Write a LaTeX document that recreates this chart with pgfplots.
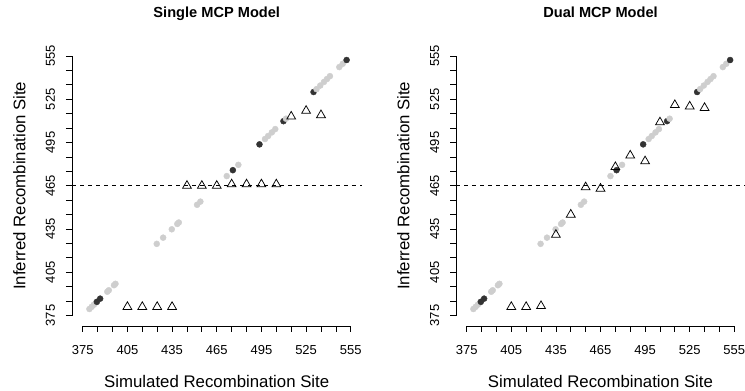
\documentclass[border=0pt]{standalone}
\usepackage{fontspec}
\setmainfont{Liberation Sans}
\usepackage{pgfplots}
\pgfplotsset{compat=1.18}
\definecolor{ptgrey}{RGB}{206,206,206}
\definecolor{ptdark}{RGB}{51,51,51}
\pgfplotsset{rstyle/.style={
  scale only axis, width=289.5pt, height=280.3pt,
  xmin=367.8, xmax=562.2, ymin=367.8, ymax=562.2,
  axis x line*=bottom, axis y line*=left,
  axis line style={draw=none,-},
  xtick={375,385,...,555}, ytick={375,385,...,555},
  xticklabels={375,,,405,,,435,,,465,,,495,,,525,,,555},
  yticklabels={375,,,405,,,435,,,465,,,495,,,525,,,555},
  tick align=outside, major tick length=6pt,
  tick style={black, line width=0.75pt},
  xticklabel style={font=\fontsize{13}{15}\selectfont, anchor=base},
  yticklabel style={font=\fontsize{13}{15}\selectfont, rotate=90, anchor=base},
  xticklabel shift=23pt, yticklabel shift=11pt,
  title style={at={(axis description cs:0.5,1.0788)}, anchor=base, font=\bfseries\fontsize{14.6}{17}\selectfont},
  xlabel style={at={(axis description cs:0.5,-0.2198)}, anchor=base, font=\fontsize{16.8}{20}\selectfont},
  ylabel style={at={(axis description cs:-0.1613,0.5)}, anchor=base, font=\fontsize{16.8}{20}\selectfont},
  xlabel={Simulated Recombination Site},
  ylabel={Inferred Recombination Site},
  clip=false,
}}
\begin{document}
\begin{tikzpicture}
\path[use as bounding box] (0pt,0pt) rectangle (745pt,391pt);
\begin{axis}[rstyle, at={(72pt,65.1pt)}, anchor=south west, title={Single MCP Model}]
\draw[line width=0.75pt] (axis cs:375,367.8) -- (axis cs:555,367.8);
\draw[line width=0.75pt] (axis cs:367.8,375) -- (axis cs:367.8,555);
\addplot[black, line width=0.75pt, dash pattern=on 4pt off 4pt] coordinates {(367.8,465) (562.2,465)};
\addplot[only marks, mark=*, mark size=3pt, color=ptgrey] coordinates {(379.5,379.5) (381,381) (382.5,382.5) (384,384) (391.5,391.5) (392.5,392.5) (396,396) (397,397) (424.7,424.7) (429,429) (434.8,434.8) (438.5,438.5) (439.5,439.5) (451.8,451.8) (454,454) (471.7,471.7) (479.5,479.5) (497.4,497.4) (499.5,499.5) (502,502) (504.3,504.3) (534.5,534.5) (537,537) (539,539) (541,541) (547.3,547.3) (549.6,549.6)};
\addplot[only marks, mark=*, mark size=3pt, color=ptdark] coordinates {(384.5,384.5) (386.7,386.7) (475.8,475.8) (493.7,493.7) (509.8,509.8) (530,530) (552.2,552.2)};
\addplot[only marks, mark=*, mark size=3pt, color=ptgrey] coordinates {(511.5,511.5) (532,532)};
\addplot[only marks, mark=triangle, mark size=5.1pt, black, mark options={line width=0.75pt}] coordinates {(405,381) (415,381) (425,381) (435,381) (445,465) (455,465) (465,465) (475,466) (485,466) (495,466) (505,466) (515,513) (525,517) (535,514)};
\end{axis}
\begin{axis}[rstyle, at={(456pt,65.1pt)}, anchor=south west, width=289pt, title={Dual MCP Model}]
\draw[line width=0.75pt] (axis cs:375,367.8) -- (axis cs:555,367.8);
\draw[line width=0.75pt] (axis cs:367.8,375) -- (axis cs:367.8,555);
\addplot[black, line width=0.75pt, dash pattern=on 4pt off 4pt] coordinates {(367.8,465) (562.2,465)};
\addplot[only marks, mark=*, mark size=3pt, color=ptgrey] coordinates {(379.5,379.5) (381,381) (382.5,382.5) (384,384) (391.5,391.5) (392.5,392.5) (396,396) (397,397) (424.7,424.7) (429,429) (434.8,434.8) (438.5,438.5) (439.5,439.5) (451.8,451.8) (454,454) (471.7,471.7) (479.5,479.5) (497.4,497.4) (499.5,499.5) (502,502) (504.3,504.3) (534.5,534.5) (537,537) (539,539) (541,541) (547.3,547.3) (549.6,549.6)};
\addplot[only marks, mark=*, mark size=3pt, color=ptdark] coordinates {(384.5,384.5) (386.7,386.7) (475.8,475.8) (493.7,493.7) (509.8,509.8) (530,530) (552.2,552.2)};
\addplot[only marks, mark=*, mark size=3pt, color=ptgrey] coordinates {(511.5,511.5) (532,532)};
\addplot[only marks, mark=triangle, mark size=5.1pt, black, mark options={line width=0.75pt}] coordinates {(405,381) (415,381) (425,381.6) (435,431) (445,445) (455,464) (465,463) (475,478) (485,486) (495,482) (505,509) (515,521) (525,520) (535,519)};
\end{axis}
\end{tikzpicture}
\end{document}
